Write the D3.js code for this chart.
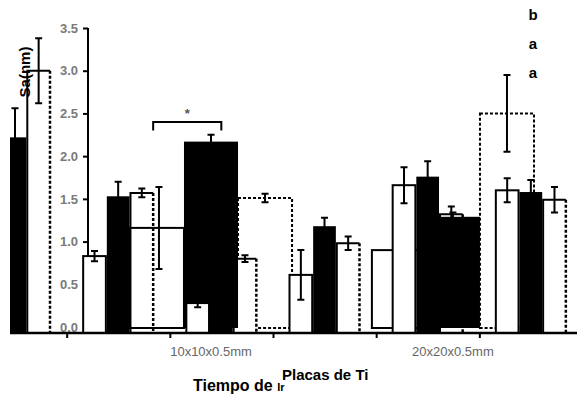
<!DOCTYPE html>
<html><head><meta charset="utf-8">
<script src="https://cdn.jsdelivr.net/npm/d3@7"></script>
<style>body{margin:0;background:#fff} svg{display:block}</style>
</head><body>
<svg id="c" width="581" height="395"></svg>
<script>
// ---- front chart (narrow bars) ----
const frontGroups = ["g0","g1","g2","g3","g4","g5"];
const frontSeries = ["white","black","dashed"];
const frontWhite     = [1.00, 0.83, 0.28, 0.61, 1.66, 1.60];
const frontWhiteErr  = [0.10, 0.06, 0.05, 0.29, 0.21, 0.14];
const frontBlack     = [2.22, 1.53, 1.90, 1.18, 1.76, 1.58];
const frontBlackErr  = [0.34, 0.17, 0.10, 0.10, 0.18, 0.14];
const frontDashed    = [3.00, 1.57, 0.80, 0.98, 1.32, 1.49];
const frontDashedErr = [0.38, 0.05, 0.04, 0.08, 0.09, 0.15];
// ---- back chart (wide bars) ----
const backCategories = ["", "10x10x0.5mm", "20x20x0.5mm"];
const backSeries = ["open","black","dashed"];
const backOpen      = [null, 1.16, 0.90];
const backOpenErr   = [null, 0.48, 0.10];
const backBlack     = [null, 2.17, 1.29];
const backBlackErr  = [null, 0.08, 0.05];
const backDashed    = [null, 1.51, 2.50];
const backDashedErr = [null, 0.05, 0.45];
// ---- texts ----
const yTicks = [0, 0.5, 1, 1.5, 2, 2.5, 3, 3.5];
const legendLetters = ["b", "a", "a"];
const starLabel = "*";
const xTitleMain = "Tiempo de ";
const xTitleSub = "Ir";
const xTitle2 = "Placas de Ti";
const yTitle = "Sa(nm)";
const bracketLevel = 2.4;

const svg = d3.select("#c");
const y = d3.scaleLinear().domain([0, 3.5]).range([327, 28]);
const axisY = 333;
const xA = d3.scaleBand().domain(frontGroups).range([-36, 583]);
const xAin = d3.scaleBand().domain(frontSeries).range([16, 86]).paddingInner(0.04);
const xB = d3.scaleBand().domain(backCategories).range([-112, 534]).paddingInner(0.33);
const xBin = d3.scaleBand().domain(backSeries).range([0, xB.bandwidth()]);

svg.append("defs").append("clipPath").attr("id", "clip")
  .append("rect").attr("x", 10).attr("y", 0).attr("width", 568).attr("height", 345);

// y axis (under bars)
const yAxis = svg.append("g").attr("transform", "translate(88,0)")
  .call(d3.axisLeft(y).tickValues(yTicks).tickFormat(d3.format(".1f")).tickSize(5).tickPadding(5));
yAxis.select(".domain").attr("d", `M0,${y(3.5)}V${axisY}`).attr("stroke", "#000").attr("stroke-width", 2);
yAxis.selectAll(".tick line").attr("stroke", "#000").attr("stroke-width", 2);
yAxis.selectAll(".tick text").attr("fill", "#7a7a7a").attr("font-family", "Liberation Sans, Arial, sans-serif")
  .attr("font-size", 13).attr("font-weight", "bold");

const plot = svg.append("g").attr("clip-path", "url(#clip)");

const front = frontGroups.map((g, i) => ({
  g,
  white: [frontWhite[i], frontWhiteErr[i]],
  black: [frontBlack[i], frontBlackErr[i]],
  dashed: [frontDashed[i], frontDashedErr[i]]
}));
const back = backCategories.map((c, i) => ({
  c,
  open: [backOpen[i], backOpenErr[i]],
  black: [backBlack[i], backBlackErr[i]],
  dashed: [backDashed[i], backDashedErr[i]]
})).filter(d => d.open[0] !== null);

function errBars(layer, data, xFn, key) {
  const cap = 3.5;
  data.forEach(d => {
    const [v, e] = d[key];
    const cx = xFn(d);
    const p = `M${cx},${y(v + e)}V${y(v - e)}M${cx - cap},${y(v + e)}H${cx + cap}M${cx - cap},${y(v - e)}H${cx + cap}`;
    layer.append("path").attr("d", p).attr("stroke", "#000").attr("stroke-width", 2).attr("fill", "none");
  });
}
const fx = (d, s) => xA(d.g) + xAin(s);
const bx = (d, s) => xB(d.c) + xBin(s);
const bottomB = y(0) + 1;

// 1. back dashed bars
const L1 = plot.append("g");
back.forEach(d => {
  L1.append("rect").attr("x", bx(d, "dashed")).attr("y", y(d.dashed[0]))
    .attr("width", xBin.bandwidth()).attr("height", bottomB - y(d.dashed[0]))
    .attr("fill", "#fff").attr("stroke", "#000").attr("stroke-width", 2).attr("stroke-dasharray", "3,2");
});
errBars(L1, back, d => bx(d, "dashed") + xBin.bandwidth() / 2, "dashed");

// 2. front dashed bars
const L2 = plot.append("g");
front.forEach(d => {
  const x0 = fx(d, "dashed"), x1 = x0 + xAin.bandwidth(), t = y(d.dashed[0]);
  L2.append("rect").attr("x", x0).attr("y", t).attr("width", xAin.bandwidth()).attr("height", axisY - t).attr("fill", "#fff");
  L2.append("path").attr("d", `M${x0},${axisY}V${t}H${x1}`).attr("stroke", "#000").attr("stroke-width", 2).attr("fill", "none");
  L2.append("path").attr("d", `M${x1},${t}V${axisY}`).attr("stroke", "#000").attr("stroke-width", 2.5).attr("stroke-dasharray", "3,2");
});
errBars(L2, front, d => fx(d, "dashed") + xAin.bandwidth() / 2, "dashed");

// 3. back black bars
const L3 = plot.append("g");
back.forEach(d => {
  L3.append("rect").attr("x", bx(d, "black")).attr("y", y(d.black[0]))
    .attr("width", xBin.bandwidth()).attr("height", bottomB - y(d.black[0])).attr("fill", "#000");
});
errBars(L3, back, d => bx(d, "black") + xBin.bandwidth() / 2, "black");

// 4. back open bars (outline only)
const L4 = plot.append("g");
back.forEach(d => {
  L4.append("rect").attr("x", bx(d, "open")).attr("y", y(d.open[0]))
    .attr("width", xBin.bandwidth()).attr("height", bottomB - y(d.open[0]))
    .attr("fill", "none").attr("stroke", "#000").attr("stroke-width", 2);
});
errBars(L4, back, d => bx(d, "open") + xBin.bandwidth() / 2 + 2, "open");

// 5. front white bars
const L5 = plot.append("g");
front.forEach(d => {
  L5.append("rect").attr("x", fx(d, "white")).attr("y", y(d.white[0]))
    .attr("width", xAin.bandwidth()).attr("height", axisY - y(d.white[0]))
    .attr("fill", "#fff").attr("stroke", "#000").attr("stroke-width", 2);
});
errBars(L5, front, d => fx(d, "white") + xAin.bandwidth() / 2, "white");

// 6. front black bars
const L6 = plot.append("g");
front.forEach(d => {
  L6.append("rect").attr("x", fx(d, "black")).attr("y", y(d.black[0]))
    .attr("width", xAin.bandwidth()).attr("height", axisY - y(d.black[0])).attr("fill", "#000");
});
errBars(L6, front, d => fx(d, "black") + xAin.bandwidth() / 2, "black");

// x axis
svg.append("line").attr("x1", 10).attr("x2", 577).attr("y1", axisY).attr("y2", axisY)
  .attr("stroke", "#000").attr("stroke-width", 2.5);
frontGroups.slice(1).forEach(g => {
  svg.append("line").attr("x1", xA(g)).attr("x2", xA(g)).attr("y1", axisY).attr("y2", axisY + 5)
    .attr("stroke", "#000").attr("stroke-width", 2);
});
backCategories.forEach(c => {
  if (!c) return;
  svg.append("text").attr("x", xB(c) + xB.bandwidth() / 2).attr("y", 356).attr("text-anchor", "middle")
    .attr("font-family", "Liberation Sans, Arial, sans-serif").attr("font-size", 13).attr("fill", "#666").text(c);
});

// significance bracket
const bx1 = xA("g1") + xAin("dashed") + xAin.bandwidth();
const bx2 = xA("g2") + xAin("black") + xAin.bandwidth() / 2;
svg.append("path").attr("d", `M${bx1},${y(bracketLevel - 0.1)}V${y(bracketLevel)}H${bx2}V${y(bracketLevel - 0.1)}`)
  .attr("stroke", "#000").attr("stroke-width", 2).attr("fill", "none");
svg.append("text").attr("x", (bx1 + bx2) / 2).attr("y", y(bracketLevel) - 4).attr("text-anchor", "middle")
  .attr("font-family", "Liberation Sans, Arial, sans-serif").attr("font-size", 13).attr("font-weight", "bold")
  .attr("fill", "#555").text(starLabel);

// letters top right
legendLetters.forEach((t, i) => {
  svg.append("text").attr("x", 533).attr("y", 20 + i * 29).attr("text-anchor", "middle")
    .attr("font-family", "Liberation Sans, Arial, sans-serif").attr("font-size", 15).attr("font-weight", "bold")
    .attr("fill", "#000").text(t);
});

// y title (rotated, partially hidden)
svg.append("text").attr("transform", "translate(30,72) rotate(-90)").attr("text-anchor", "middle")
  .attr("font-family", "Liberation Sans, Arial, sans-serif").attr("font-size", 15).attr("font-weight", "bold")
  .attr("fill", "#000").text(yTitle);

// x titles
const t1 = svg.append("text").attr("x", 193).attr("y", 391)
  .attr("font-family", "Liberation Sans, Arial, sans-serif").attr("font-size", 16).attr("font-weight", "bold").attr("fill", "#000");
t1.append("tspan").text(xTitleMain);
t1.append("tspan").attr("font-size", 11).text(xTitleSub);
svg.append("text").attr("x", 282).attr("y", 380)
  .attr("font-family", "Liberation Sans, Arial, sans-serif").attr("font-size", 15).attr("font-weight", "bold")
  .attr("fill", "#000").text(xTitle2);
</script>
</body></html>
